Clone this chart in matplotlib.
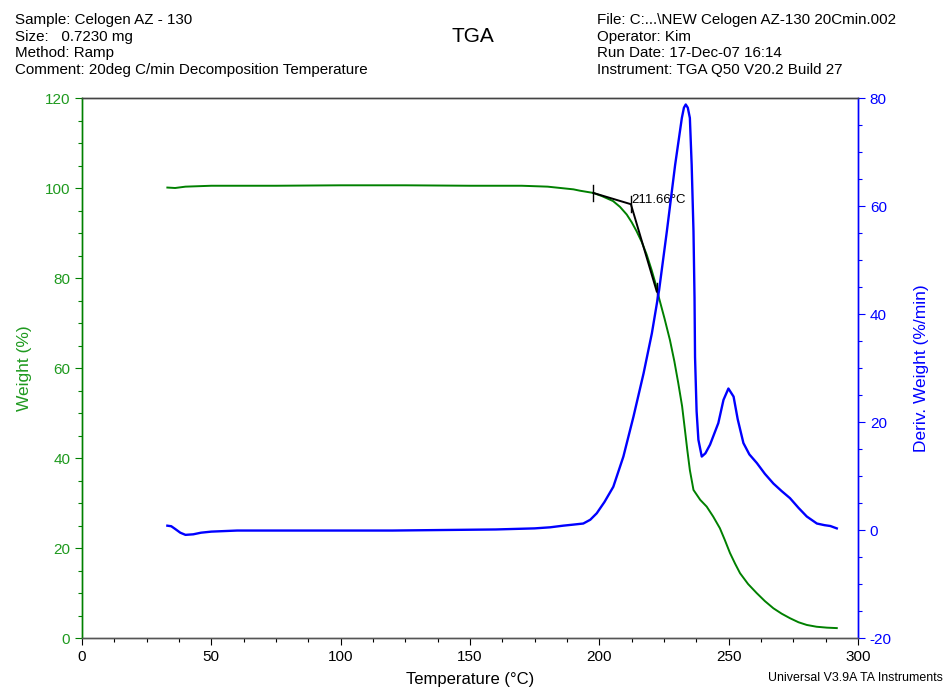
import matplotlib
matplotlib.use("Agg")
import matplotlib.pyplot as plt
from matplotlib.ticker import MultipleLocator

plt.rcParams['font.family'] = ['Liberation Sans', 'DejaVu Sans']
plt.rcParams['axes.unicode_minus'] = False

# ---------------- data ----------------
temp_w = [33, 36, 40, 50, 75, 100, 125, 150, 170, 180, 185, 190, 192.5, 197.7, 201,
          205.3, 208, 210.6, 212.5, 214.4, 216.4, 218.3, 220.2, 222.2, 223.1, 225.2,
          227.3, 229, 230.5, 232, 233.1, 234, 235, 236.4, 239, 241.5, 244, 246.6,
          248.5, 250.5, 252.5, 254.4, 257.5, 260.8, 264, 267.3, 270.5, 273.7, 277,
          280.2, 284, 288, 291.8]
weight = [100.1, 100.0, 100.3, 100.5, 100.5, 100.6, 100.6, 100.5, 100.5, 100.3, 100.0,
          99.7, 99.4, 98.9, 98.2, 97.1, 95.8, 94.1, 92.4, 90.4, 88.0, 85.2, 81.8, 77.8,
          75.5, 71.0, 66.2, 61.5, 56.7, 51.5, 46.2, 41.8, 37.3, 32.9, 30.7, 29.2, 27.0,
          24.4, 21.8, 18.9, 16.5, 14.4, 12.0, 10.0, 8.2, 6.6, 5.4, 4.4, 3.5, 2.9, 2.5,
          2.3, 2.2]

temp_d = [33, 34.5, 36, 38, 40, 43, 46, 50, 60, 80, 100, 120, 140, 160, 175, 181, 186,
          190, 193.8, 196.5, 199, 202, 205.4, 209.3, 213.2, 217.1, 220.3, 223.1, 226.1,
          229.3, 231.9, 232.7, 233.4, 234.2, 235, 235.7, 236.4, 236.8, 237.0, 237.6,
          238.3, 239.6, 241, 242.8, 246, 248, 249.9, 251.9, 253.5, 255.7, 258, 260.9,
          264, 267.3, 270.5, 273.7, 277, 280.2, 284.1, 287, 289.3, 291.8]
deriv = [0.8, 0.7, 0.2, -0.5, -0.9, -0.8, -0.5, -0.3, -0.1, -0.1, -0.1, -0.1, 0.0, 0.1,
         0.3, 0.5, 0.8, 1.0, 1.2, 1.9, 3.1, 5.2, 8.0, 13.6, 21.0, 29.0, 36.4, 44.4, 55.3,
         67.6, 76.3, 78.2, 78.8, 78.2, 76.3, 67.6, 55.3, 43.0, 32.0, 22.0, 16.7, 13.6,
         14.2, 15.8, 19.8, 24.1, 26.2, 24.7, 20.5, 16.1, 14.0, 12.4, 10.4, 8.6, 7.2, 5.9,
         4.1, 2.5, 1.2, 0.9, 0.74, 0.3]

# onset construction (tangent lines)
onset_t = [197.7, 212.2, 222.2]
onset_w = [98.9, 96.4, 77.0]
onset_label = "211.66°C"

header_left = ["Sample: Celogen AZ - 130", "Size:   0.7230 mg", "Method: Ramp",
               "Comment: 20deg C/min Decomposition Temperature"]
header_right = ["File: C:...\\NEW Celogen AZ-130 20Cmin.002", "Operator: Kim",
                "Run Date: 17-Dec-07 16:14", "Instrument: TGA Q50 V20.2 Build 27"]

GREEN = '#008000'
LGREEN = '#1f9a1f'
BLUE = '#0000ff'

fig = plt.figure(figsize=(9.45, 6.88), dpi=100)
ax = fig.add_axes([82 / 945, 1 - 638 / 688, 776 / 945, 540 / 688])
ax2 = ax.twinx()

ax.plot(temp_w, weight, color=GREEN, lw=1.4, zorder=3)
ax.plot(onset_t, onset_w, color='black', lw=1.4, zorder=4)
for t, w in zip(onset_t, onset_w):
    ax.plot([t, t], [w - 1.8, w + 1.8], color='black', lw=1.0, zorder=4)
ax.text(onset_t[1] + 0.3, onset_w[1] + 1.0, onset_label, fontsize=9.5, va='center', ha='left')

ax2.plot(temp_d, deriv, color=BLUE, lw=1.7, zorder=3)

ax.set_xlim(0, 300)
ax.set_ylim(0, 120)
ax2.set_ylim(-20, 80)

ax.xaxis.set_major_locator(MultipleLocator(50))
ax.xaxis.set_minor_locator(MultipleLocator(12.5))
ax.yaxis.set_major_locator(MultipleLocator(20))
ax.yaxis.set_minor_locator(MultipleLocator(5))
ax2.yaxis.set_major_locator(MultipleLocator(20))
ax2.yaxis.set_minor_locator(MultipleLocator(5))

ax.tick_params(axis='x', which='major', length=5, width=0.8, colors='black', labelsize=11)
ax.tick_params(axis='x', which='minor', length=3, width=0.8, colors='black')
ax.tick_params(axis='y', which='major', length=5, width=0.8, color=GREEN, labelcolor=LGREEN, labelsize=11)
ax.tick_params(axis='y', which='minor', length=3, width=0.8, color=GREEN)
ax2.tick_params(axis='y', which='major', length=5, width=0.8, color=BLUE, labelcolor=BLUE, labelsize=11)
ax2.tick_params(axis='y', which='minor', length=3, width=0.8, color=BLUE)

for a in (ax, ax2):
    a.spines['top'].set_color('#444444')
    a.spines['bottom'].set_color('#555555')
    a.spines['left'].set_color(GREEN)
    a.spines['right'].set_color(BLUE)
    for s in a.spines.values():
        s.set_linewidth(1.0)

ax.set_ylabel("Weight (%)", color=LGREEN, fontsize=12.5, labelpad=9)
ax2.set_ylabel("Deriv. Weight (%/min)", color=BLUE, fontsize=12.5, labelpad=16)
ax.set_xlabel("Temperature (°C)", fontsize=12, labelpad=6)

# header block
for i, line in enumerate(header_left):
    fig.text(15 / 945, 1 - (24 + 16.7 * i) / 688, line, fontsize=10.9, va='baseline', ha='left')
for i, line in enumerate(header_right):
    fig.text(597 / 945, 1 - (24 + 16.7 * i) / 688, line, fontsize=10.9, va='baseline', ha='left')
fig.text(473 / 945, 1 - 42 / 688, "TGA", fontsize=15, va='baseline', ha='center')
fig.text(943 / 945, 1 - 678 / 688, "Universal V3.9A TA Instruments", fontsize=8.9,
         va='center', ha='right')

fig.savefig("out.png", dpi=100)
